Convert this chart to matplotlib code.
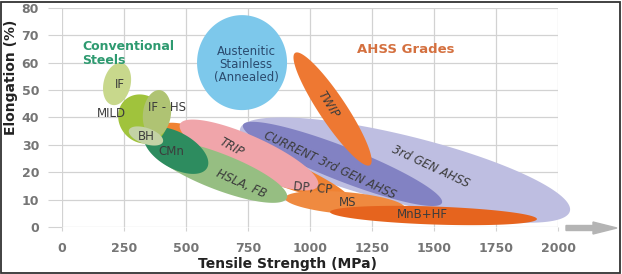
import numpy as np
import matplotlib
matplotlib.use('Agg')
import matplotlib.pyplot as plt
from matplotlib.patches import Polygon, Rectangle, FancyArrow

#### data ####
# each steel grade region: ends of its long axis (tensile MPa, elongation %)
grades = ['3rd GEN AHSS', 'CURRENT 3rd GEN AHSS', 'DP, CP', 'MS', 'MnB+HF', 'TRIP',
          'HSLA, FB', 'CMn', 'IF', 'MILD', 'IF - HS', 'BH', 'TWIP', 'Austenitic']
ts_start = [718, 730, 415, 899, 1081, 476, 355, 335, 242, 254, 395, 270, 940, 726]
el_start = [35.8, 37.3, 37.3, 10.6, 5.5, 37.6, 30.0, 34.3, 59.9, 46.4, 50.0, 35.4, 63.6, 77.4]
ts_end = [2048, 1532, 1161, 1383, 1915, 1032, 907, 585, 202, 395, 371, 407, 1242, 726]
el_end = [5.8, 8.8, 9.9, 6.9, 2.9, 15.0, 10.6, 21.6, 44.6, 32.5, 32.9, 31.1, 22.6, 42.7]

x_ticks = [0, 250, 500, 750, 1000, 1250, 1500, 1750, 2000]
y_ticks = [0, 10, 20, 30, 40, 50, 60, 70, 80]

#### style ####
thick_px = [68, 34, 28, 22, 18, 38, 36, 36, 27, 46, 28, 16, 27, 90]
colors = ['#bebee1', '#8282c3', '#f08232', '#ef8a40', '#e6641e', '#f0a5aa',
          '#96be82', '#2d8c5f', '#c8d88c', '#a0c33c', '#afc373', '#c3d2a5',
          '#ee7832', '#7dc8eb']

# label text, position (MPa, %), rotation
labels = [('IF', 234, 51.9, 0), ('MILD', 198, 41.3, 0), ('IF - HS', 423, 43.5, 0),
          ('BH', 339, 32.9, 0), ('CMn', 440, 27.4, 0), ('TRIP', 685, 29.2, -29),
          ('HSLA, FB', 722, 15.7, -24), ('DP, CP', 1012, 14.2, -5), ('MS', 1153, 8.8, 0),
          ('MnB+HF', 1452, 4.6, 0), ('CURRENT 3rd GEN AHSS', 1081, 22.6, -25),
          ('3rd GEN AHSS', 1488, 21.9, -25), ('TWIP', 1073, 44.6, -58)]

fig = plt.figure(figsize=(6.22, 2.74), dpi=100)
ax = fig.add_axes([62/622, 1-227/274, 496/622, 219/274])
ax.set_xlim(0, 2000)
ax.set_ylim(0, 80)
ax.set_xticks(x_ticks)
ax.set_yticks(y_ticks)
ax.grid(True, color='#d2d2d2', lw=0.9)
ax.set_axisbelow(True)
for s in ax.spines.values():
    s.set_visible(False)
ax.tick_params(axis='y', length=10, color='#d2d2d2', pad=6.5)
ax.tick_params(axis='x', length=3, color='#d2d2d2', pad=8)
for lab in ax.get_xticklabels() + ax.get_yticklabels():
    lab.set_fontweight('bold')
    lab.set_fontsize(9)
    lab.set_color('#757575')

ax.set_xlabel('Tensile Strength (MPa)', fontsize=10, fontweight='bold', color='#222222')
ax.set_ylabel('Elongation (%)', fontsize=10, fontweight='bold', color='#222222')
ax.xaxis.set_label_coords(0.454, -0.135)
ax.yaxis.set_label_coords(-0.088, 0.685)


def region(x0, y0, x1, y1, thick, color):
    # ellipse built in pixel space so the tilt is not sheared by the axis scales
    p0, p1 = ax.transData.transform([(x0, y0), (x1, y1)])
    c = (p0 + p1) / 2
    d = p1 - p0
    a = np.hypot(d[0], d[1]) / 2
    b = thick / 2
    ang = np.arctan2(d[1], d[0])
    t = np.linspace(0, 2*np.pi, 200)
    u = a*np.cos(t)
    v = b*np.sin(t)
    pts = np.column_stack([c[0] + u*np.cos(ang) - v*np.sin(ang),
                           c[1] + u*np.sin(ang) + v*np.cos(ang)])
    ax.add_patch(Polygon(ax.transData.inverted().transform(pts), closed=True,
                         fc=color, ec='none', clip_on=False, zorder=2))


for i in range(len(grades)):
    region(ts_start[i], el_start[i], ts_end[i], el_end[i], thick_px[i], colors[i])

for txt, x, y, r in labels:
    ax.text(x, y, txt, ha='center', va='center', rotation=r, fontsize=8.5,
            style='italic' if r < -10 else 'normal',
            color='#3c3c3c', zorder=5, rotation_mode='anchor')

ax.text(742, 59.2, 'Austenitic\nStainless\n(Annealed)', ha='center', va='center',
        fontsize=8.5, color='#2a4a6e', linespacing=1.0, zorder=5)
ax.text(81, 68.3, 'Conventional\nSteels', ha='left', va='top', fontsize=9,
        fontweight='bold', color='#2e9a70', linespacing=1.05, zorder=5)
ax.text(1190, 64.7, 'AHSS Grades', ha='left', va='center', fontsize=9.5,
        fontweight='bold', color='#d4703f', zorder=5)

# gray arrow past the x axis
fig.patches.append(FancyArrow(566/622, 1-228/274, 51/622, 0, width=5/274,
                              head_width=12/274, head_length=24/622,
                              length_includes_head=True, color='#b4b4b4',
                              transform=fig.transFigure, figure=fig))
# frame around the picture
fig.patches.append(Rectangle((0.002, 0.004), 0.995, 0.99, transform=fig.transFigure,
                             fill=False, ec='#333333', lw=1.3, figure=fig))

fig.savefig('out.png', dpi=100)
